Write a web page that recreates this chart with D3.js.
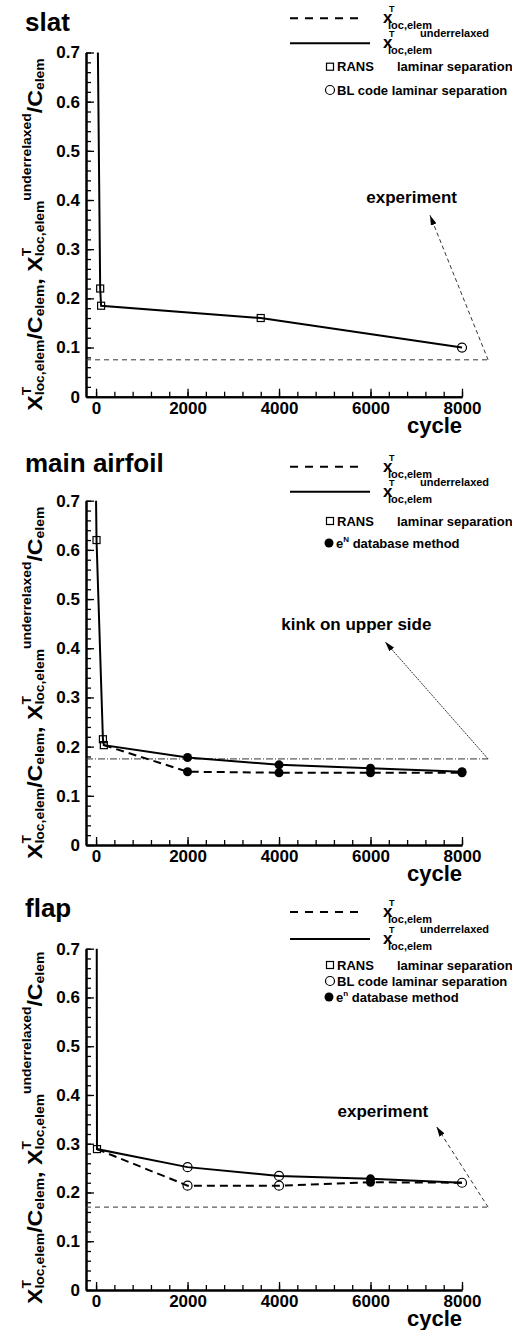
<!DOCTYPE html>
<html lang="en">
<head>
<meta charset="UTF-8">
<title>Transition location convergence</title>
<script src="https://d3js.org/d3.v7.min.js"></script>
<style>
  body { margin: 0; background: #fff; }
  svg { font-family: "Liberation Sans", Arial, Helvetica, sans-serif; font-weight: bold; }
  .line { fill: none; stroke: #000; stroke-width: 2; }
  .dashed { stroke-dasharray: 8,5; }
  .axis path, .axis line { stroke: #000; }
  .axis path { stroke-width: 2; }
  .axis line { stroke-width: 1.3; }
  .axis text { font-size: 17px; font-weight: bold; fill: #000; }
  .ref { fill: none; stroke: #333; stroke-width: 1; }
</style>
</head>
<body>
<div id="chart"></div>
<script>
// axis ticks
const xTicks = [0, 2000, 4000, 6000, 8000];
const xMinor = d3.range(0, 8001, 400);
const yTicks = [0, 0.1, 0.2, 0.3, 0.4, 0.5, 0.6, 0.7];
const yMinor = d3.range(0, 0.701, 0.02);

// slat
const slatSolid   = [[40, 0.70], [90, 0.22], [110, 0.185], [3600, 0.16], [8000, 0.10]];
const slatDashed  = [];
const slatSquares = [[90, 0.22], [110, 0.185], [3600, 0.16]];
const slatCircles = [[8000, 0.10]];
const slatDots    = [];
const slatRef     = 0.075;

// main airfoil
const mainSolid   = [[0, 0.70], [10, 0.62], [150, 0.215], [170, 0.203], [2000, 0.178], [4000, 0.163], [6000, 0.156], [8000, 0.149]];
const mainDashed  = [[170, 0.203], [2000, 0.149], [4000, 0.147], [6000, 0.147], [8000, 0.147]];
const mainSquares = [[10, 0.62], [150, 0.215], [170, 0.203]];
const mainCircles = [];
const mainDots    = [[2000, 0.178], [4000, 0.163], [6000, 0.156], [8000, 0.149],
                     [2000, 0.149], [4000, 0.147], [6000, 0.147], [8000, 0.147]];
const mainRef     = 0.175;

// flap
const flapSolid   = [[15, 0.70], [20, 0.289], [2000, 0.252], [4000, 0.234], [6000, 0.228], [8000, 0.22]];
const flapDashed  = [[20, 0.289], [2000, 0.214], [4000, 0.214], [6000, 0.221], [8000, 0.22]];
const flapSquares = [[20, 0.289]];
const flapCircles = [[2000, 0.252], [4000, 0.234], [8000, 0.22], [2000, 0.214], [4000, 0.214]];
const flapDots    = [[6000, 0.228], [6000, 0.221]];
const flapRef     = 0.17;

// annotations: text anchor, arrow tip, end of reference line (cycle)
const refEnd = 8570;
const slatNote = { text: "experiment", at: [6900, 0.394], tip: [7300, 0.369] };
const mainNote = { text: "kink on upper side", at: [5690, 0.437], tip: [6320, 0.413] };
const flapNote = { text: "experiment", at: [6270, 0.355], tip: [7445, 0.335] };

const panels = [
  { title: "slat", solid: slatSolid, dashed: slatDashed, squares: slatSquares, circles: slatCircles, dots: slatDots,
    ref: slatRef, note: slatNote, refDash: "5,4",
    top: 52.5, bottom: 396.7, titleY: 31, legendY: [18.3, 43.3],
    rows: [{ y: 66.7, kind: "square" }, { y: 90, kind: "circle" }] },
  { title: "main airfoil", solid: mainSolid, dashed: mainDashed, squares: mainSquares, circles: mainCircles, dots: mainDots,
    ref: mainRef, note: mainNote, refDash: "7,2,1,2",
    top: 500.7, bottom: 845, titleY: 472, legendY: [466.7, 491.7],
    rows: [{ y: 521, kind: "square" }, { y: 543, kind: "dot", sup: "N" }] },
  { title: "flap", solid: flapSolid, dashed: flapDashed, squares: flapSquares, circles: flapCircles, dots: flapDots,
    ref: flapRef, note: flapNote, refDash: "5,4",
    top: 948.7, bottom: 1290, titleY: 917, legendY: [912, 939],
    rows: [{ y: 965, kind: "square" }, { y: 981, kind: "circle" }, { y: 997, kind: "dot", sup: "n" }] }
];

const W = 512, H = 1330;
const svg = d3.select("#chart").append("svg").attr("width", W).attr("height", H);

svg.append("defs").append("marker")
  .attr("id", "arrow").attr("viewBox", "0 0 10 6").attr("refX", 10).attr("refY", 3)
  .attr("markerWidth", 10).attr("markerHeight", 6).attr("markerUnits", "userSpaceOnUse")
  .attr("orient", "auto")
  .append("path").attr("d", "M0,0L10,3L0,6Z").attr("fill", "#000");

const x = d3.scaleLinear().domain([-220, 8000]).range([86, 462]);

// x^T_{loc,elem} for legend
function legendMath(g, lx, ly, under) {
  g.append("text").attr("x", lx).attr("y", ly + 5).attr("font-size", 17).text("x");
  g.append("text").attr("x", lx + 6).attr("y", ly - 6).attr("font-size", 9).text("T");
  g.append("text").attr("x", lx + 5).attr("y", ly + 11).attr("font-size", 11).text("loc,elem");
  if (under) g.append("text").attr("x", lx + 37).attr("y", ly - 6).attr("font-size", 11).text("underrelaxed");
}

panels.forEach(p => {
  const y = d3.scaleLinear().domain([0, 0.7]).range([p.bottom, p.top]);
  const g = svg.append("g");
  const line = d3.line().x(d => x(d[0])).y(d => y(d[1]));

  // title
  g.append("text").attr("x", 25).attr("y", p.titleY).attr("font-size", 26).text(p.title);

  // axes: minor then major
  g.append("g").attr("class", "axis").attr("transform", `translate(0,${p.bottom})`)
    .call(d3.axisBottom(x).tickValues(xMinor).tickSize(-5).tickSizeOuter(0).tickFormat(""));
  g.append("g").attr("class", "axis").attr("transform", `translate(0,${p.bottom})`)
    .call(d3.axisBottom(x).tickValues(xTicks).tickSize(-8).tickSizeOuter(0).tickPadding(5).tickFormat(d3.format("d")));
  g.append("g").attr("class", "axis").attr("transform", `translate(${x.range()[0]},0)`)
    .call(d3.axisLeft(y).tickValues(yMinor).tickSize(-5).tickSizeOuter(0).tickFormat(""));
  g.append("g").attr("class", "axis").attr("transform", `translate(${x.range()[0]},0)`)
    .call(d3.axisLeft(y).tickValues(yTicks).tickSize(-8).tickSizeOuter(0).tickPadding(6)
      .tickFormat(d => d === 0 ? "0" : d3.format(".1f")(d)));

  g.append("text").attr("x", 462).attr("y", p.bottom + 36).attr("text-anchor", "end")
    .attr("font-size", 22).text("cycle");

  // y-axis label
  const lab = g.append("text").attr("font-size", 20)
    .attr("transform", `translate(42,${p.bottom + 14}) rotate(-90) scale(1.16,1)`);
  const sym = (main, sub, under, tail) => {
    lab.append("tspan").text(main);
    const t = lab.append("tspan").attr("font-size", 12).attr("dy", -11).text("T");
    const tw = t.node().getComputedTextLength();
    lab.append("tspan").attr("font-size", 12).attr("dx", -tw).attr("dy", 13).text(sub);
    let back = -2;
    if (under) { lab.append("tspan").attr("font-size", 12).attr("dy", -13).text("underrelaxed"); back = 11; }
    lab.append("tspan").attr("dy", back).text("/C");
    lab.append("tspan").attr("font-size", 12).attr("dy", 2).text("elem");
    if (tail) lab.append("tspan").attr("dy", -2).text(tail);
  };
  sym("X", "loc,elem", false, ", ");
  sym("X", "loc,elem", true, null);

  // reference line + annotation arrow
  g.append("line").attr("class", "ref").attr("stroke-dasharray", p.refDash)
    .attr("x1", x.range()[0]).attr("x2", x(refEnd)).attr("y1", y(p.ref)).attr("y2", y(p.ref));
  g.append("line").attr("class", "ref").attr("stroke-dasharray", p.title === "main airfoil" ? "2,1" : "4,3")
    .attr("x1", x(refEnd)).attr("y1", y(p.ref)).attr("x2", x(p.note.tip[0])).attr("y2", y(p.note.tip[1]))
    .attr("marker-end", "url(#arrow)");
  g.append("text").attr("x", x(p.note.at[0])).attr("y", y(p.note.at[1])).attr("text-anchor", "middle")
    .attr("font-size", 17).text(p.note.text);

  // data lines
  if (p.dashed.length) g.append("path").datum(p.dashed).attr("class", "line dashed").attr("d", line);
  g.append("path").datum(p.solid).attr("class", "line").attr("d", line);

  // markers
  g.selectAll(".sq").data(p.squares).enter().append("rect").attr("class", "sq")
    .attr("x", d => x(d[0]) - 3.5).attr("y", d => y(d[1]) - 3.5).attr("width", 7).attr("height", 7)
    .attr("fill", "none").attr("stroke", "#000").attr("stroke-width", 1.2);
  g.selectAll(".oc").data(p.circles).enter().append("circle").attr("class", "oc")
    .attr("cx", d => x(d[0])).attr("cy", d => y(d[1])).attr("r", 4.5)
    .attr("fill", "none").attr("stroke", "#000").attr("stroke-width", 1.2);
  g.selectAll(".fc").data(p.dots).enter().append("circle").attr("class", "fc")
    .attr("cx", d => x(d[0])).attr("cy", d => y(d[1])).attr("r", 4.5).attr("fill", "#000");

  // legend
  g.append("line").attr("class", "line").attr("stroke-dasharray", "8,7")
    .attr("x1", 290).attr("x2", 363).attr("y1", p.legendY[0]).attr("y2", p.legendY[0]);
  g.append("line").attr("class", "line")
    .attr("x1", 290).attr("x2", 370).attr("y1", p.legendY[1]).attr("y2", p.legendY[1]);
  legendMath(g, 383, p.legendY[0], false);
  legendMath(g, 383, p.legendY[1], true);

  p.rows.forEach(r => {
    if (r.kind === "square") {
      g.append("rect").attr("x", 326.5).attr("y", r.y - 3.5).attr("width", 7).attr("height", 7)
        .attr("fill", "none").attr("stroke", "#000").attr("stroke-width", 1.2);
      g.append("text").attr("x", 337).attr("y", r.y + 4.5).attr("font-size", 13).text("RANS");
      g.append("text").attr("x", 397).attr("y", r.y + 4.5).attr("font-size", 13).text("laminar separation");
    } else if (r.kind === "circle") {
      g.append("circle").attr("cx", 330).attr("cy", r.y).attr("r", 4.5)
        .attr("fill", "none").attr("stroke", "#000").attr("stroke-width", 1.2);
      g.append("text").attr("x", 337).attr("y", r.y + 4.5).attr("font-size", 13).text("BL code laminar separation");
    } else {
      g.append("circle").attr("cx", 329).attr("cy", r.y).attr("r", 4.5).attr("fill", "#000");
      const t = g.append("text").attr("x", 336).attr("y", r.y + 4.5).attr("font-size", 13);
      t.append("tspan").text("e");
      t.append("tspan").attr("font-size", 8).attr("dy", -6).text(r.sup);
      t.append("tspan").attr("dy", 6).text(" database method");
    }
  });
});
</script>
</body>
</html>
